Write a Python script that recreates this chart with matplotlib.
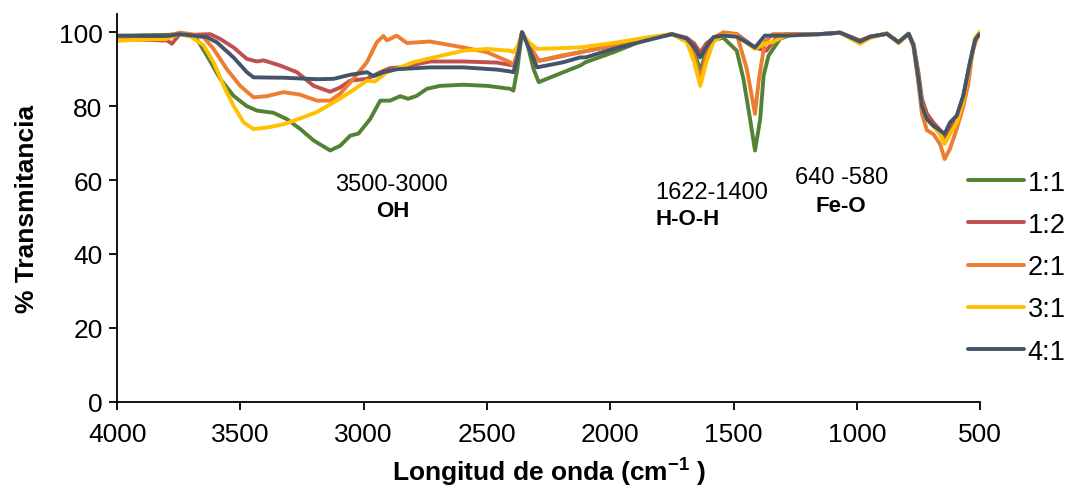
import matplotlib
matplotlib.use("Agg")
import matplotlib.pyplot as plt

# Espectros FTIR de las muestras por relación molar
wn_11 = [4000, 3900, 3800, 3745, 3700, 3677, 3636, 3582, 3528, 3474, 3433, 3366, 3312, 3257, 3203,
         3136, 3095, 3055, 3021, 2974, 2933, 2893, 2852, 2820, 2785, 2744, 2690, 2596, 2500, 2406,
         2393, 2377, 2358, 2338, 2311, 2290, 2257, 2190, 2122, 2100, 1987, 1919, 1865, 1750, 1690,
         1660, 1635, 1610, 1581, 1541, 1487, 1460, 1433, 1413, 1392, 1378, 1358, 1311, 1258, 1149,
         1068, 987, 946, 878, 831, 790, 770, 750, 736, 716, 689, 662, 644, 622, 595, 568, 541, 520, 503]
t_11 = [99.0, 99.2, 99.3, 99.5, 99.0, 98.2, 93.7, 87.4, 82.8, 80.0, 78.8, 78.2, 76.5, 73.8, 70.7,
        68.0, 69.3, 72.0, 72.6, 76.5, 81.5, 81.5, 82.7, 82.0, 82.8, 84.7, 85.5, 85.8, 85.5, 84.7,
        84.2, 90.0, 100.0, 97.3, 90.0, 86.5, 87.4, 89.2, 91.0, 91.9, 94.6, 96.4, 98.0, 99.5, 98.0,
        95.0, 89.5, 95.0, 98.0, 98.5, 95.0, 87.4, 76.5, 68.0, 76.5, 88.3, 93.7, 98.3, 99.5, 99.5,
        99.9, 97.5, 98.8, 99.6, 97.3, 99.6, 96.4, 87.4, 80.1, 76.5, 74.7, 72.5, 70.0, 73.5, 77.0,
        82.8, 91.9, 98.0, 99.5]

wn_12 = [4000, 3900, 3820, 3798, 3778, 3745, 3700, 3623, 3582, 3528, 3474, 3433, 3406, 3339, 3271,
         3203, 3136, 3095, 3055, 2987, 2933, 2893, 2852, 2731, 2596, 2460, 2393, 2377, 2358, 2325,
         2290, 2257, 2122, 1988, 1852, 1750, 1690, 1660, 1635, 1610, 1581, 1541, 1487, 1413, 1368,
         1330, 1290, 1149, 1068, 987, 946, 878, 831, 790, 770, 750, 736, 716, 689, 662, 644, 622,
         595, 568, 541, 520, 503]
t_12 = [98.2, 98.0, 97.8, 97.8, 96.9, 99.6, 99.3, 99.5, 98.2, 95.9, 92.8, 92.1, 92.4, 91.0, 89.2,
        85.5, 83.9, 85.1, 86.9, 87.4, 89.2, 90.3, 90.5, 92.1, 92.1, 91.8, 91.0, 94.0, 100.0, 96.0,
        92.3, 92.7, 94.6, 96.4, 98.2, 99.5, 98.5, 97.0, 94.5, 97.0, 98.5, 99.8, 99.5, 95.9, 95.0,
        98.2, 99.5, 99.5, 99.9, 97.8, 98.8, 99.6, 97.3, 99.6, 96.8, 89.0, 82.0, 78.0, 75.5, 73.5,
        70.7, 73.5, 77.0, 82.8, 91.5, 98.0, 99.5]

wn_21 = [4000, 3900, 3800, 3745, 3700, 3650, 3609, 3555, 3501, 3447, 3393, 3325, 3257, 3190, 3136,
         3095, 3042, 2987, 2947, 2920, 2906, 2866, 2825, 2731, 2596, 2500, 2406, 2393, 2377, 2358,
         2325, 2290, 2190, 2122, 1988, 1852, 1750, 1690, 1660, 1635, 1610, 1581, 1541, 1487, 1446,
         1413, 1397, 1373, 1340, 1149, 1068, 987, 946, 878, 831, 790, 770, 750, 736, 716, 689, 662,
         644, 622, 595, 568, 548, 530, 510, 500]
t_21 = [98.6, 98.8, 99.0, 99.9, 99.5, 98.7, 95.5, 90.0, 85.5, 82.4, 82.7, 83.8, 83.1, 81.5, 81.5,
        83.4, 87.4, 91.9, 97.3, 99.0, 97.8, 99.1, 97.1, 97.5, 95.9, 94.6, 91.9, 91.0, 94.0, 100.0,
        96.0, 92.3, 93.8, 94.6, 96.4, 98.2, 99.5, 97.8, 94.0, 87.0, 94.0, 98.5, 100.0, 99.5, 90.0,
        77.9, 87.4, 97.4, 99.5, 99.5, 99.9, 97.5, 98.8, 99.6, 97.3, 99.6, 96.0, 86.0, 78.0, 73.5,
        72.4, 69.7, 65.7, 68.5, 73.8, 80.0, 86.0, 95.0, 99.0, 100.0]

wn_31 = [4000, 3900, 3800, 3745, 3700, 3650, 3609, 3568, 3528, 3487, 3447, 3393, 3325, 3257, 3190,
         3122, 3055, 2987, 2954, 2906, 2852, 2798, 2690, 2596, 2500, 2406, 2393, 2377, 2358, 2325,
         2297, 2122, 1988, 1852, 1750, 1690, 1660, 1635, 1610, 1581, 1541, 1487, 1413, 1378, 1340,
         1290, 1149, 1068, 987, 946, 878, 831, 790, 770, 750, 736, 716, 689, 662, 644, 622, 595,
         568, 541, 520, 500]
t_31 = [97.7, 98.0, 98.2, 99.6, 98.8, 96.5, 91.9, 85.5, 80.1, 75.6, 73.8, 74.2, 75.1, 76.7, 78.4,
        81.0, 83.8, 86.9, 86.7, 89.2, 90.5, 91.9, 93.6, 95.0, 95.5, 95.0, 94.6, 96.0, 99.5, 97.0,
        95.5, 95.9, 97.1, 98.6, 99.5, 97.4, 92.0, 85.5, 92.0, 97.5, 99.2, 99.1, 95.5, 96.8, 97.4,
        99.1, 99.5, 99.9, 96.9, 98.5, 99.8, 97.0, 99.6, 96.4, 87.4, 80.5, 76.5, 74.5, 72.5, 69.8,
        72.5, 75.5, 81.5, 91.5, 98.5, 100.2]

wn_41 = [4000, 3900, 3800, 3745, 3636, 3596, 3528, 3474, 3447, 3325, 3190, 3122, 3055, 2987, 2960,
         2920, 2866, 2731, 2596, 2460, 2406, 2393, 2377, 2358, 2325, 2297, 2190, 2122, 2100, 1988,
         1852, 1750, 1690, 1660, 1635, 1610, 1581, 1541, 1487, 1460, 1413, 1373, 1290, 1149, 1068,
         987, 946, 878, 831, 790, 770, 750, 736, 716, 689, 662, 644, 622, 595, 568, 541, 520, 503]
t_41 = [99.1, 99.0, 99.0, 99.5, 98.7, 97.3, 93.2, 89.2, 87.8, 87.7, 87.3, 87.4, 88.5, 89.2, 88.1,
        89.2, 90.0, 90.5, 90.5, 89.9, 89.4, 89.2, 93.0, 100.0, 95.0, 90.5, 91.9, 93.2, 93.2, 95.5,
        97.8, 99.5, 98.3, 96.0, 93.2, 96.0, 98.7, 99.1, 98.8, 97.8, 95.9, 99.1, 99.1, 99.5, 99.9,
        97.5, 98.8, 99.6, 97.3, 99.6, 96.4, 87.4, 80.1, 76.5, 74.7, 73.4, 72.5, 75.6, 77.4, 82.8,
        91.9, 98.0, 99.5]

etiquetas = ['1:1', '1:2', '2:1', '3:1', '4:1']
colores = ['#548235', '#C0504D', '#ED7D31', '#FFC000', '#44546A']

plt.rcParams['font.family'] = ['Liberation Sans', 'DejaVu Sans']
plt.rcParams['mathtext.fontset'] = 'custom'
plt.rcParams['mathtext.rm'] = 'Liberation Sans:bold'
plt.rcParams['mathtext.it'] = 'Liberation Sans:bold'
plt.rcParams['mathtext.bf'] = 'Liberation Sans:bold'

fig = plt.figure(figsize=(10.65, 4.89), dpi=100)
ax = fig.add_axes([0.110, 0.1765, 0.8103, 0.7932])

series = [(wn_11, t_11), (wn_12, t_12), (wn_21, t_21), (wn_31, t_31), (wn_41, t_41)]
for (x, y), lab, col in zip(series, etiquetas, colores):
    ax.plot(x, y, color=col, lw=2.8, label=lab, solid_capstyle='round', solid_joinstyle='round')

ax.set_xlim(4000, 500)
ax.set_ylim(0, 105)
ax.set_xticks(range(4000, 499, -500))
ax.set_yticks(range(0, 101, 20))
ax.tick_params(labelsize=19, length=5.5, width=1.3, direction='out')
ax.tick_params(axis='x', pad=9)
ax.tick_params(axis='y', pad=5)
for s in ['top', 'right']:
    ax.spines[s].set_visible(False)
for s in ['left', 'bottom']:
    ax.spines[s].set_linewidth(1.3)

ax.set_xlabel(r'Longitud de onda (cm$^{-1}$ )', fontsize=19, fontweight='bold', labelpad=7)
ax.set_ylabel('% Transmitancia', fontsize=19, fontweight='bold', labelpad=14)

# Bandas de absorción
ax.text(2886, 58.9, '3500-3000', fontsize=17, ha='center', va='center')
ax.text(2883, 51.7, 'OH', fontsize=16, fontweight='bold', ha='center', va='center')
ax.text(1818, 56.7, '1622-1400', fontsize=17, ha='left', va='center')
ax.text(1818, 49.5, 'H-O-H', fontsize=16, fontweight='bold', ha='left', va='center')
ax.text(1063, 60.8, '640 -580', fontsize=17, ha='center', va='center')
ax.text(1063, 53.0, 'Fe-O', fontsize=16, fontweight='bold', ha='center', va='center')

fig.legend(loc='upper left', bbox_to_anchor=(0.909, 0.651), frameon=False, fontsize=19.5,
           handlelength=2.05, handletextpad=0.15, labelspacing=0.6, borderpad=0, borderaxespad=0)

fig.savefig('out.png', dpi=100)
